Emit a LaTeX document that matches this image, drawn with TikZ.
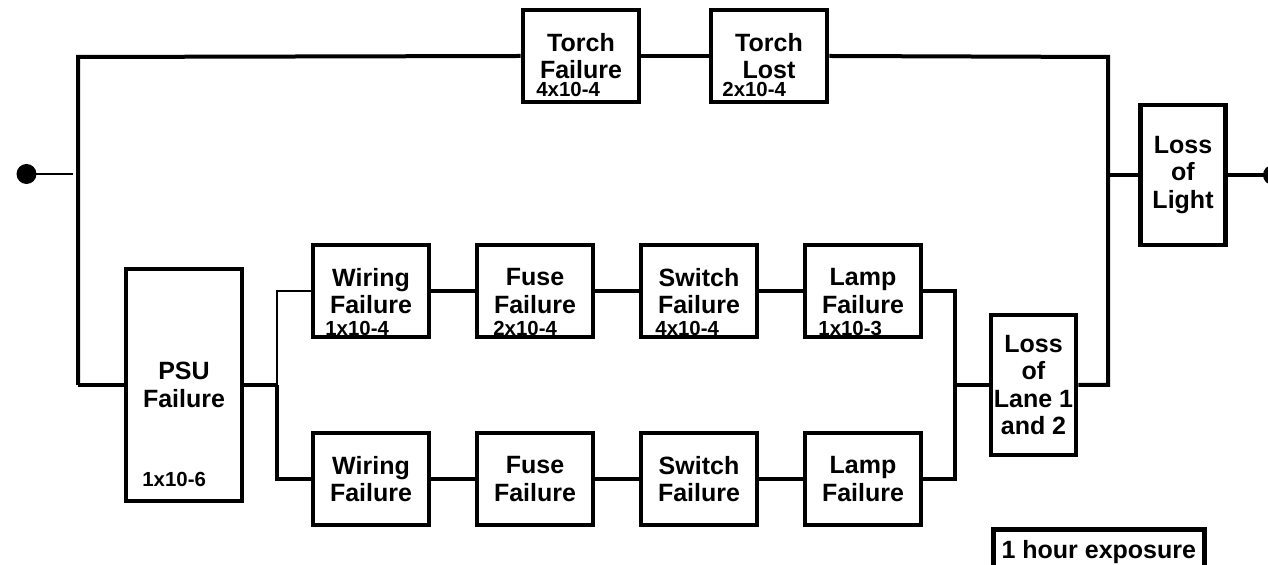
\documentclass[tikz,border=0pt]{standalone}
\usepackage{fontspec}
\setmainfont{Liberation Sans}
\usepackage{tikz}
\usetikzlibrary{positioning}

\begin{document}
\begin{tikzpicture}[
    x=0.5pt, y=-0.5pt,
    block/.style={draw, rectangle, line width=2.3pt, align=center, inner sep=0pt,
        font=\fontsize{12.5}{13.8}\selectfont\bfseries, minimum width=58pt, minimum height=46pt},
    tall/.style={block, minimum width=42.5pt, minimum height=70pt},
    rate/.style={inner sep=0pt, anchor=base west, font=\fontsize{10.2}{12}\selectfont\bfseries},
    line/.style={line width=2pt},
    thin/.style={line width=1.1pt}
]
\useasboundingbox (0,0) rectangle (1268,565);

% torch lane
\node[block] (tfail) at (581,56) {Torch\\Failure};
\node[block] (tlost) at (769,56) {Torch\\Lost};
\node[rate] (tfailr) at (536,97) {4x10-4};
\node[rate] (tlostr) at (722,97) {2x10-4};

% power supply
\node[block, minimum height=116pt] (psu) at (184,385) {PSU\\Failure};
\node[rate] (psur) at (142,487) {1x10-6};

% lane 1
\node[block] (wire1) at (371,291) {Wiring\\Failure};
\node[block] (fuse1) at (535,291) {Fuse\\Failure};
\node[block] (sw1) at (699,291) {Switch\\Failure};
\node[block] (lamp1) at (863,291) {Lamp\\Failure};
\node[rate] (wire1r) at (325,336) {1x10-4};
\node[rate] (fuse1r) at (493,336) {2x10-4};
\node[rate] (sw1r) at (655,336) {4x10-4};
\node[rate] (lamp1r) at (818,336) {1x10-3};

% lane 2
\node[block] (wire2) at (371,479) {Wiring\\Failure};
\node[block] (fuse2) at (535,479) {Fuse\\Failure};
\node[block] (sw2) at (699,479) {Switch\\Failure};
\node[block] (lamp2) at (863,479) {Lamp\\Failure};

% top events
\node[tall] (lane) at (1033.5,385) {Loss\\of\\Lane 1\\and 2};
\node[tall] (light) at (1183,175) {Loss\\of\\Light};
\node[block, anchor=north west, minimum width=105.5pt, minimum height=23pt] (expo) at (991,527) {1 hour exposure};

% junction points
\coordinate (src) at (26.5,174);
\coordinate (snk) at (1273,175);
\coordinate (jtl) at (78,57);
\coordinate (jbl) at (78,385);
\coordinate (jp) at (277,385);
\coordinate (jr) at (955,385);
\coordinate (jtr) at (1108,57);
\coordinate (jlr) at (1108,385);
\coordinate (jo) at (1108,175);

\fill (src) circle (10);
\fill (snk) circle (10);
\draw[thin] (src) -- (73,174);
\draw[line] (jbl) -- (jtl) -- (tfail.west);
\draw[line] (tfail) -- (tlost);
\draw[line] (tlost.east) -- (jtr) -- (jlr) -- (lane.east);
\draw[line] (jbl) -- (psu.west);
\draw[line] (psu.east) -- (jp);
\draw[thin] (jp) |- (wire1.west);
\draw[line] (jp) |- (wire2.west);
\draw[line] (wire1) -- (fuse1);
\draw[line] (fuse1) -- (sw1);
\draw[line] (sw1) -- (lamp1);
\draw[line] (wire2) -- (fuse2);
\draw[line] (fuse2) -- (sw2);
\draw[line] (sw2) -- (lamp2);
\draw[line] (lamp1.east) -| (jr) |- (lamp2.east);
\draw[line] (jr) -- (lane.west);
\draw[line] (jo) -- (light.west);
\draw[line] (light.east) -- (snk);

\end{tikzpicture}
\end{document}
